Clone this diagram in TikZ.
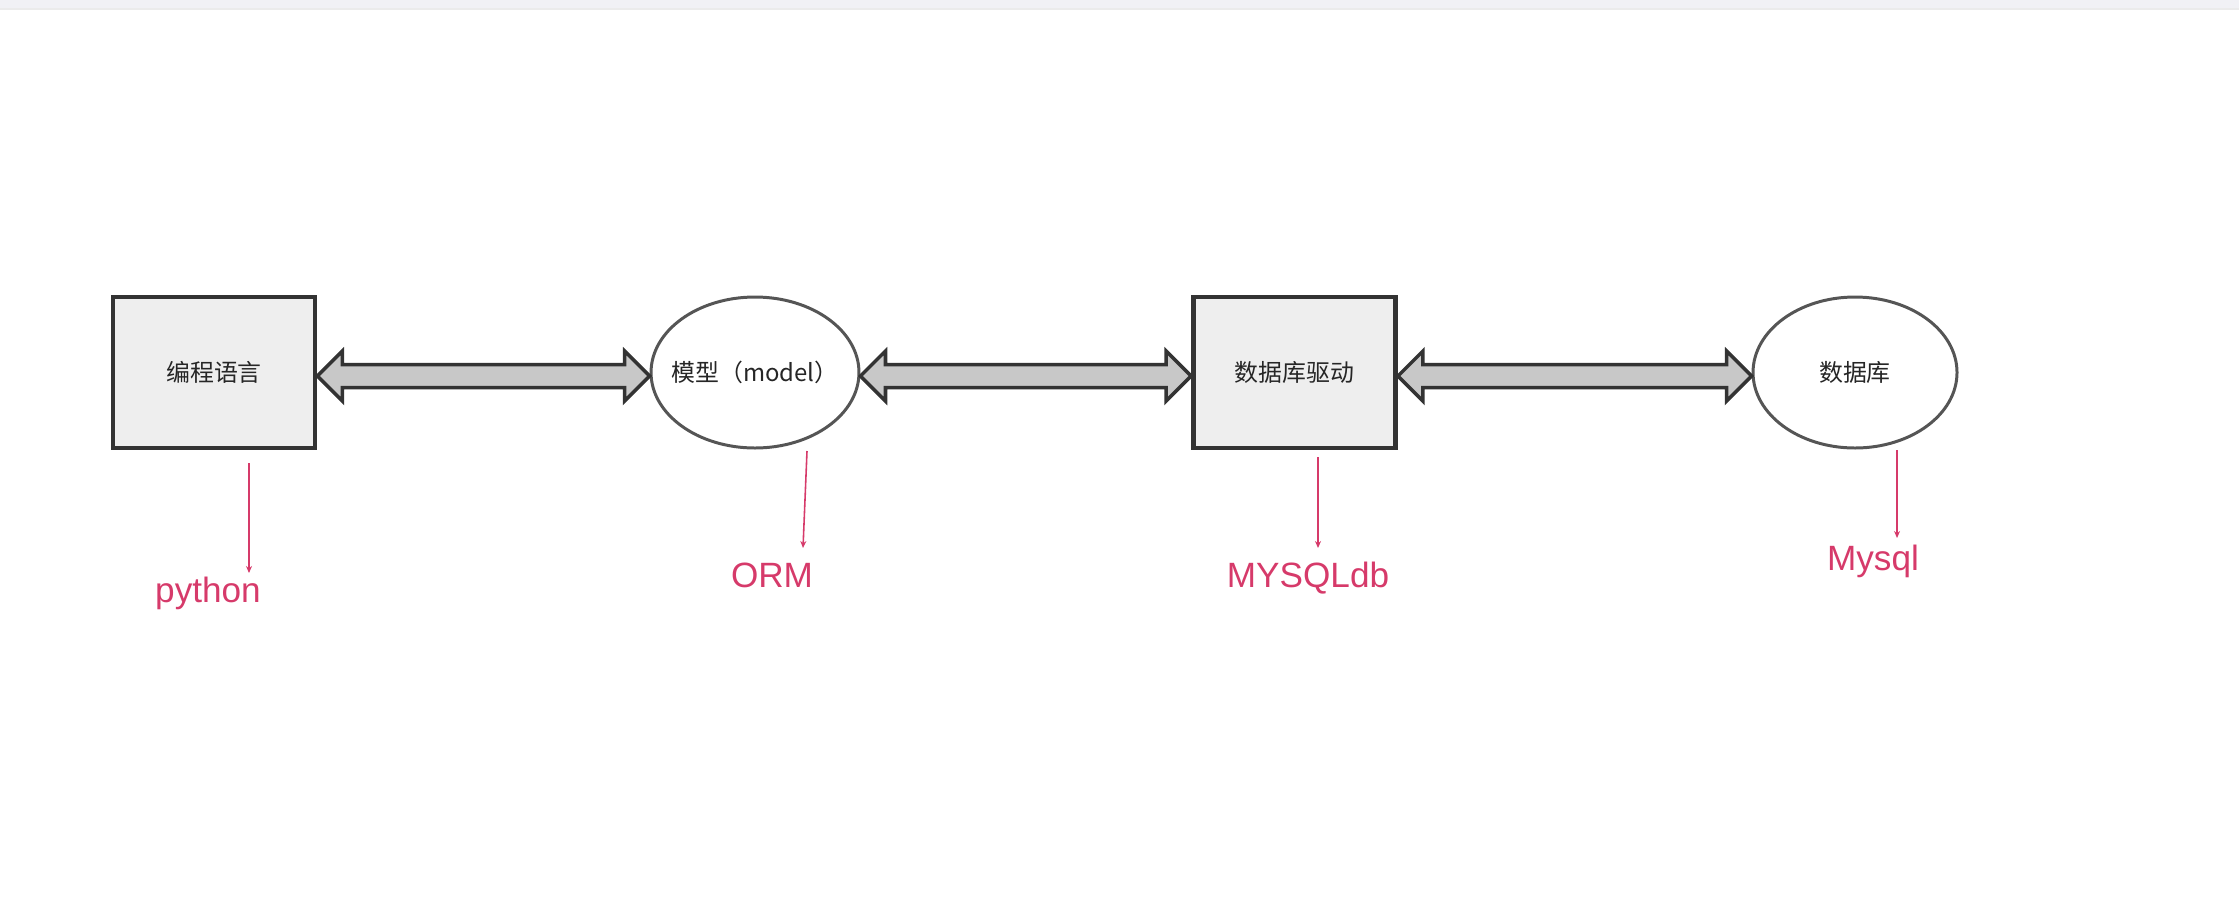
\documentclass[tikz,border=0pt]{standalone}
\usepackage{fontspec}
\newfontfamily\cjk{Noto Sans CJK SC}
\newfontfamily\lbl{Liberation Sans}
\usetikzlibrary{shapes.geometric}
\usetikzlibrary{arrows.meta}
\usetikzlibrary{calc}

\definecolor{boxgray}{HTML}{EEEEEE}
\definecolor{linegray}{HTML}{333333}
\definecolor{rimgray}{HTML}{555555}
\definecolor{shaftgray}{HTML}{C8C8C8}
\definecolor{notepink}{RGB}{214,58,106}
\definecolor{bargray}{HTML}{F1F1F5}

\newcommand{\fatarrow}[2]{%
    \path[fatarrow] let \p1=([yshift=-0.35mm]#1.east), \p2=([yshift=-0.35mm]#2.west) in
        (\p1) -- (\x1+2.5mm,\y1+2.5mm) -- (\x1+2.5mm,\y1+1.15mm)
        -- (\x2-2.5mm,\y1+1.15mm) -- (\x2-2.5mm,\y1+2.5mm) -- (\p2)
        -- (\x2-2.5mm,\y1-2.5mm) -- (\x2-2.5mm,\y1-1.15mm)
        -- (\x1+2.5mm,\y1-1.15mm) -- (\x1+2.5mm,\y1-2.5mm) -- cycle;
}

\begin{document}
\begin{tikzpicture}[x=0.1mm, y=-0.1mm,
        langbox/.style={draw=linegray, line width=1.4pt, fill=boxgray,
            minimum width=20.2mm, minimum height=15.1mm, inner sep=0pt,
            font=\cjk\fontsize{6.8}{8}\selectfont, text=black!85},
        modelell/.style={ellipse, draw=rimgray, line width=0.85pt, fill=white,
            minimum width=20.4mm, minimum height=15.1mm, inner sep=0pt, inner xsep=-1mm,
            font=\cjk\fontsize{6.8}{8}\selectfont, text=black!85},
        fatarrow/.style={draw=linegray, line width=1pt, fill=shaftgray, line join=miter},
        notearrow/.style={draw=notepink, line width=0.45pt, -{Stealth[length=0.7mm, width=0.6mm]}},
        notetext/.style={text=notepink, font=\lbl\fontsize{10}{12}\selectfont, anchor=base, inner sep=0pt}]

        \useasboundingbox (0,0) rectangle (2239,911);
        \fill[bargray] (0,0) rectangle (2239,9);
        \draw[black!8, line width=0.3pt] (0,9) -- (2239,9);

        \node[langbox] (lang) at (214,372.5) {编程语言};
        \node[modelell] (model) at (755,372.5) {模型（model）};
        \node[langbox] (driver) at (1294.5,372.5) {数据库驱动};
        \node[modelell] (db) at (1855,372.5) {数据库};

        \fatarrow{lang}{model}
        \fatarrow{model}{driver}
        \fatarrow{driver}{db}

        \node[notetext] (python) at (208,602) {python};
        \node[notetext] (orm) at (772,587) {ORM};
        \node[notetext] (mysqldb) at (1308,587) {MYSQLdb};
        \node[notetext] (mysql) at (1873,570) {Mysql};

        \coordinate (python top) at (249,463);
        \coordinate (python end) at (249,573);
        \coordinate (orm top) at (807,451);
        \coordinate (orm end) at (803,548);
        \coordinate (mysqldb top) at (1318,457);
        \coordinate (mysqldb end) at (1318,548);
        \coordinate (mysql top) at (1897,450);
        \coordinate (mysql end) at (1897,538);

        \draw[notearrow] (python top) -- (python end);
        \draw[notearrow] (orm top) -- (orm end);
        \draw[notearrow] (mysqldb top) -- (mysqldb end);
        \draw[notearrow] (mysql top) -- (mysql end);
\end{tikzpicture}
\end{document}
